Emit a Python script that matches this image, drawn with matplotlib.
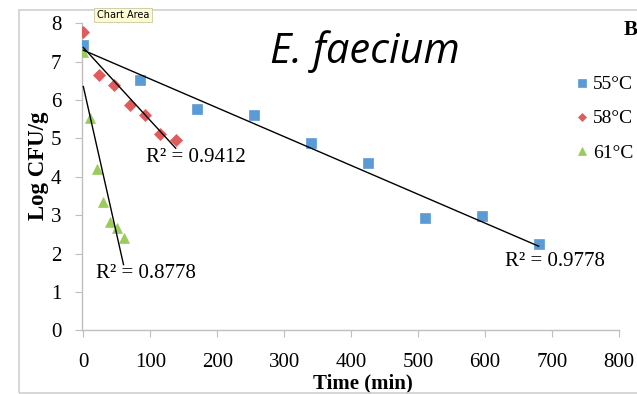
import numpy as np
import matplotlib.pyplot as plt
from matplotlib.patches import Rectangle

# ============================================================
# Survival data (log CFU/g vs time) at three temperatures
# ============================================================
t_55 = [0, 85, 170, 255, 340, 425, 510, 595, 680]
y_55 = [7.43, 6.52, 5.77, 5.61, 4.87, 4.36, 2.93, 2.98, 2.24]

t_58 = [0, 23, 46, 69, 92, 115, 138]
y_58 = [7.77, 6.64, 6.40, 5.88, 5.62, 5.11, 4.97]

t_61 = [0, 10, 20, 30, 40, 50, 60]
y_61 = [7.25, 5.52, 4.21, 3.35, 2.83, 2.66, 2.40]

series_labels = ["55°C", "58°C", "61°C"]
r2_labels = ["R² = 0.9778", "R² = 0.9412", "R² = 0.8778"]

# ============================================================
# Figure
# ============================================================
plt.rcParams["font.family"] = ["Liberation Serif", "DejaVu Serif"]
W, H = 637, 394
fig = plt.figure(figsize=(W / 100, H / 100), dpi=100)
ax = fig.add_axes([82 / W, 1 - 330.3 / H, (619 - 82) / W, (330.3 - 23.3) / H])

# outer chart-area frame
fig.patches.append(Rectangle((19 / W, 1 - 393 / H), 1.0, (393 - 10) / H,
                             transform=fig.transFigure, fill=False,
                             edgecolor="#d0d0d0", linewidth=1.2))

styles = [
    dict(marker="s", color="#5b9bd5", ms=7.5),
    dict(marker="D", color="#e05c5c", ms=6.0),
    dict(marker="^", color="#9bcb5b", ms=7.5),
]
data = [(t_55, y_55), (t_58, y_58), (t_61, y_61)]

handles = []
for (t, y), st, lab in zip(data, styles, series_labels):
    t = np.array(t, dtype=float)
    y = np.array(y, dtype=float)
    h, = ax.plot(t, y, linestyle="none", marker=st["marker"], ms=st["ms"],
                 mfc=st["color"], mec=st["color"], mew=0.5, label=lab, zorder=3)
    handles.append(h)
    # linear trendline over the sampled range
    k, b = np.polyfit(t, y, 1)
    tt = np.array([t.min(), t.max()])
    ax.plot(tt, k * tt + b, color="black", lw=1.0, zorder=4)

ax.set_xlim(-2, 800)
ax.set_ylim(0, 8)
ax.set_xticks(np.arange(0, 801, 100))
ax.set_yticks(np.arange(0, 9, 1))
for s in ["top", "right"]:
    ax.spines[s].set_visible(False)
for s in ["left", "bottom"]:
    ax.spines[s].set_color("#bfbfbf")
    ax.spines[s].set_linewidth(1.0)
ax.tick_params(direction="out", length=5, color="#bfbfbf", labelsize=15,
               labelcolor="black")
ax.tick_params(axis="x", pad=11)
ax.tick_params(axis="y", pad=10)

ax.set_xlabel("Time (min)", fontsize=15, fontweight="bold")
ax.set_ylabel("Log CFU/g", fontsize=16.5, fontweight="bold")
ax.xaxis.set_label_coords(0.523, -0.142)
ax.yaxis.set_label_coords(-0.061, 0.535)

# R² annotations
ax.text(630, 1.80, r2_labels[0], fontsize=15, ha="left", va="center")
ax.text(94, 4.49, r2_labels[1], fontsize=15, ha="left", va="center")
ax.text(19, 1.49, r2_labels[2], fontsize=15, ha="left", va="center")

# species title
fig.text(365 / W, 1 - 63 / H, "E. faecium", fontsize=30, style="italic",
         family=["Open Sans", "DejaVu Sans"], ha="center", va="baseline")
fig.text(624 / W, 1 - 30 / H, "B", fontsize=15, fontweight="bold",
         ha="left", va="center")

fig.legend(handles=handles, loc="upper left",
           bbox_to_anchor=(566 / W, 1 - 66 / H), frameon=False,
           fontsize=14, handlelength=0.6, handletextpad=0.3,
           labelspacing=0.85, markerscale=0.75, borderpad=0)

# hover tooltip label
fig.text(123 / W, 1 - 15 / H, "Chart Area", fontsize=7,
         family=["DejaVu Sans"], ha="center", va="center",
         bbox=dict(boxstyle="square,pad=0.25", fc="#fdfbd3", ec="#c8c8a0", lw=0.6))

fig.savefig("out.png", dpi=100)
